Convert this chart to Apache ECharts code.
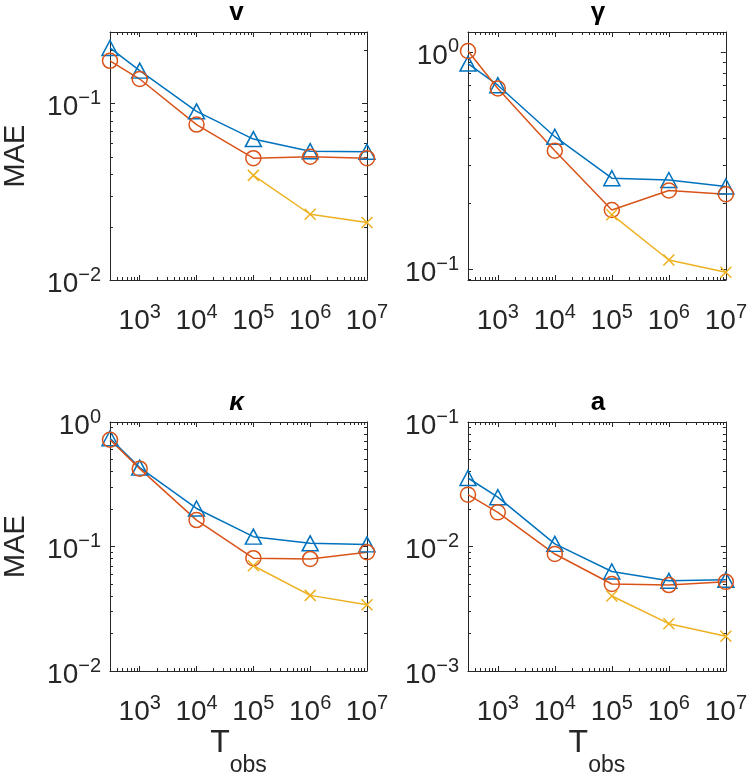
<!DOCTYPE html>
<html>
<head>
<meta charset="utf-8">
<script src="https://cdn.jsdelivr.net/npm/echarts@6/dist/echarts.min.js"></script>
<style>
  html, body { margin: 0; padding: 0; background: #fff; }
  #chart { width: 750px; height: 782px; }
</style>
</head>
<body>
<div id="chart"></div>
<script>
// observation lengths (x axis)
const tObs = [300, 1e3, 1e4, 1e5, 1e6, 1e7]
const tObsLong = [1e5, 1e6, 1e7]

// panel titles
const titles = ['v', 'γ', 'κ', 'a']

// MAE values, one triple of series per panel
const vTri = [0.207, 0.154, 0.0905, 0.063, 0.0538, 0.0534]
const vCirc = [0.175, 0.138, 0.0761, 0.0491, 0.050, 0.0491]
const vCross = [0.0392, 0.0236, 0.0212]

const gammaTri = [0.884, 0.703, 0.407, 0.262, 0.257, 0.240]
const gammaCirc = [1.01, 0.679, 0.351, 0.187, 0.230, 0.221]
const gammaCross = [0.178, 0.110, 0.0966]

const kappaTri = [0.74, 0.43, 0.202, 0.120, 0.106, 0.104]
const kappaCirc = [0.72, 0.422, 0.163, 0.0806, 0.0795, 0.090]
const kappaCross = [0.070, 0.0405, 0.034]

const aTri = [0.0355, 0.0249, 0.0105, 0.0063, 0.0053, 0.0054]
const aCirc = [0.0261, 0.0188, 0.0087, 0.0050, 0.0049, 0.0052]
const aCross = [0.0040, 0.0024, 0.0019]

// axis ranges
const xRange = [300, 1e7]
const yRanges = [[0.01, 0.255], [0.089, 1.236], [0.01, 1], [0.001, 0.1]]

const panels = [
  [vTri, vCirc, vCross],
  [gammaTri, gammaCirc, gammaCross],
  [kappaTri, kappaCirc, kappaCross],
  [aTri, aCirc, aCross]
]

const grids = [
  {left: 106, top: 32, width: 261, height: 248},
  {left: 468, top: 32, width: 260, height: 248},
  {left: 106, top: 422, width: 261, height: 249},
  {left: 468, top: 422, width: 260, height: 249}
]

const axisColor = '#262626'
const font = 'Liberation Sans, Arial, Helvetica, sans-serif'
const colors = ['#0072BD', '#D95319', '#EDB120']
const symbols = ['triangle', 'circle', 'path://M0,0L10,10M10,0L0,10']
const symbolSizes = [[16, 15], 15, 11]

// exponents of decades / minor tick positions inside a range, in log10 units
function majors(lo, hi) {
  const out = []
  for (let e = Math.ceil(Math.log10(lo) - 1e-9); e <= Math.floor(Math.log10(hi) + 1e-9); e++) out.push(e)
  return out
}
function minors(lo, hi) {
  const out = []
  for (let e = Math.floor(Math.log10(lo)) - 1; e <= Math.ceil(Math.log10(hi)); e++) {
    for (let k = 2; k <= 9; k++) {
      const v = k * Math.pow(10, e)
      if (v >= lo * 0.999 && v <= hi * 1.001) out.push(Math.log10(v))
    }
  }
  return out
}

const richTick = {
  b: {fontSize: 28, lineHeight: 28, fontFamily: font, color: axisColor, padding: [8, 0, 0, 0]},
  s: {fontSize: 20, lineHeight: 20, fontFamily: font, color: axisColor, padding: [0, 0, 10, 0]}
}

function tickAxis(p, pos, range, values, len, line, label) {
  return {
    type: 'value',
    gridIndex: p,
    position: pos,
    min: Math.log10(range[0]),
    max: Math.log10(range[1]),
    axisLine: {show: line, onZero: false, lineStyle: {color: axisColor, width: 1}},
    axisTick: {show: true, inside: true, length: len, customValues: values, lineStyle: {color: axisColor, width: 1}},
    axisLabel: label ? {
      show: true,
      customValues: values,
      margin: label,
      formatter: function (val) {
        const e = Math.round(val)
        return '{b|10}{s|' + (e < 0 ? '\u2212' + (-e) : e) + '}'
      },
      rich: richTick
    } : {show: false},
    splitLine: {show: false}
  }
}

const xAxes = []
const yAxes = []
const series = []
const graphics = []

panels.forEach(function (sets, p) {
  const yr = yRanges[p]
  // axes that carry the data
  xAxes.push({type: 'log', gridIndex: p, min: xRange[0], max: xRange[1], show: false})
  yAxes.push({type: 'log', gridIndex: p, min: yr[0], max: yr[1], show: false})
  // box with major/minor ticks on all four sides
  const xb = tickAxis(p, 'bottom', xRange, majors(xRange[0], xRange[1]), 5, true, 23)
  if (p >= 2) {
    xb.name = '{t|T}{sub|obs}'
    xb.nameLocation = 'middle'
    xb.nameGap = 55
    xb.nameTextStyle = {
      rich: {
        t: {fontSize: 32, lineHeight: 32, fontFamily: font, color: axisColor, padding: [0, 0, 22, 0]},
        sub: {fontSize: 23, lineHeight: 23, fontFamily: font, color: axisColor, padding: [24, 0, 0, 0]}
      }
    }
  }
  xAxes.push(xb)
  xAxes.push(tickAxis(p, 'bottom', xRange, minors(xRange[0], xRange[1]), 3, false, 0))
  xAxes.push(tickAxis(p, 'top', xRange, majors(xRange[0], xRange[1]), 5, true, 0))
  xAxes.push(tickAxis(p, 'top', xRange, minors(xRange[0], xRange[1]), 3, false, 0))

  const yl = tickAxis(p, 'left', yr, majors(yr[0], yr[1]), 5, true, 9)
  if (p % 2 === 0) {
    yl.name = 'MAE'
    yl.nameLocation = 'middle'
    yl.nameGap = 80
    yl.nameTextStyle = {fontSize: 29, fontFamily: font, color: axisColor}
  }
  yAxes.push(yl)
  yAxes.push(tickAxis(p, 'left', yr, minors(yr[0], yr[1]), 3, false, 0))
  yAxes.push(tickAxis(p, 'right', yr, majors(yr[0], yr[1]), 5, true, 0))
  yAxes.push(tickAxis(p, 'right', yr, minors(yr[0], yr[1]), 3, false, 0))

  sets.forEach(function (vals, s) {
    const xs = vals.length === tObs.length ? tObs : tObsLong
    series.push({
      type: 'line',
      xAxisIndex: p * 5,
      yAxisIndex: p * 5,
      data: vals.map(function (v, i) { return [xs[i], v] }),
      symbol: symbols[s],
      symbolSize: symbolSizes[s],
      showAllSymbol: true,
      lineStyle: {color: colors[s], width: 1.5},
      itemStyle: {color: 'rgba(0,0,0,0)', borderColor: colors[s], borderWidth: 1.5},
      emphasis: {disabled: true},
      z: 3
    })
  })

  const g = grids[p]
  graphics.push({
    type: 'text',
    x: g.left + g.width / 2,
    y: g.top - 19,
    style: {
      text: titles[p],
      align: 'center',
      verticalAlign: 'middle',
      font: (p === 2 ? 'italic ' : '') + 'bold 26px ' + font,
      fill: '#000'
    }
  })
})

const chart = echarts.init(document.getElementById('chart'))
chart.setOption({
  backgroundColor: '#fff',
  animation: false,
  grid: grids,
  xAxis: xAxes,
  yAxis: yAxes,
  series: series,
  graphic: graphics
})
</script>
</body>
</html>
